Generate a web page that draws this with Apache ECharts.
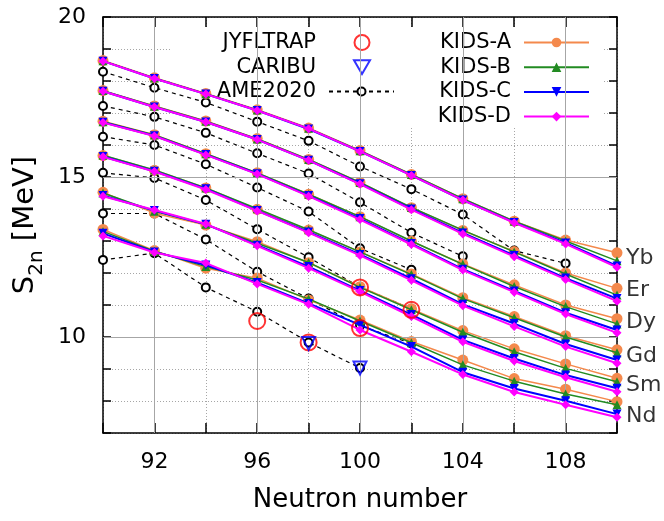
<!DOCTYPE html>
<html>
<head>
<meta charset="utf-8">
<script src="https://cdn.jsdelivr.net/npm/echarts@6/dist/echarts.min.js"></script>
<style>
html,body{margin:0;padding:0;background:#fff;}
#c{width:664px;height:521px;}
</style>
</head>
<body>
<div id="c"></div>
<script>
// Neutron numbers
const N = [90, 92, 94, 96, 98, 100, 102, 104, 106, 108, 110];
const chainNames = ['Nd', 'Sm', 'Gd', 'Dy', 'Er', 'Yb'];

// KIDS-A
const Yb_A = [18.64, 18.10, 17.61, 17.10, 16.53, 15.83, 15.08, 14.32, 13.62, 13.03, 12.63];
const Er_A = [17.70, 17.22, 16.75, 16.20, 15.55, 14.83, 14.04, 13.33, 12.67, 12.00, 11.52];
const Dy_A = [16.74, 16.32, 15.73, 15.13, 14.46, 13.76, 12.99, 12.28, 11.63, 11.00, 10.57];
const Gd_A = [15.67, 15.21, 14.66, 13.99, 13.34, 12.66, 11.97, 11.23, 10.64, 10.04, 9.60];
const Sm_A = [14.52, 13.87, 13.50, 12.98, 12.32, 11.57, 10.88, 10.20, 9.63, 9.16, 8.71];
const Nd_A = [13.36, 12.70, 12.15, 11.84, 11.16, 10.53, 9.86, 9.28, 8.70, 8.37, 7.98];
// KIDS-B
const Yb_B = [18.63, 18.09, 17.60, 17.09, 16.52, 15.82, 15.08, 14.32, 13.62, 13.00, 12.38];
const Er_B = [17.70, 17.21, 16.74, 16.19, 15.55, 14.83, 14.05, 13.34, 12.66, 11.97, 11.31];
const Dy_B = [16.73, 16.31, 15.73, 15.13, 14.46, 13.76, 13.00, 12.27, 11.58, 10.95, 10.41];
const Gd_B = [15.68, 15.22, 14.66, 14.01, 13.35, 12.66, 11.95, 11.20, 10.60, 10.00, 9.51];
const Sm_B = [14.50, 13.93, 13.52, 12.93, 12.33, 11.55, 10.85, 10.15, 9.54, 9.02, 8.60];
const Nd_B = [13.30, 12.68, 12.20, 11.78, 11.19, 10.50, 9.82, 9.13, 8.62, 8.22, 7.88];
// KIDS-C
const Yb_C = [18.62, 18.08, 17.59, 17.08, 16.50, 15.80, 15.05, 14.28, 13.58, 12.94, 12.22];
const Er_C = [17.68, 17.19, 16.72, 16.17, 15.52, 14.79, 14.00, 13.25, 12.55, 11.84, 11.20];
const Dy_C = [16.71, 16.29, 15.70, 15.10, 14.42, 13.70, 12.92, 12.12, 11.44, 10.76, 10.22];
const Gd_C = [15.64, 15.18, 14.63, 13.95, 13.28, 12.58, 11.82, 11.02, 10.42, 9.78, 9.28];
const Sm_C = [14.42, 13.95, 13.52, 12.87, 12.20, 11.45, 10.70, 9.91, 9.33, 8.81, 8.40];
const Nd_C = [13.24, 12.66, 12.25, 11.70, 11.05, 10.38, 9.70, 8.90, 8.39, 8.01, 7.59];
// KIDS-D
const Yb_D = [18.62, 18.08, 17.59, 17.08, 16.51, 15.80, 15.05, 14.28, 13.57, 12.91, 12.18];
const Er_D = [17.68, 17.19, 16.72, 16.17, 15.52, 14.78, 13.98, 13.22, 12.51, 11.80, 11.12];
const Dy_D = [16.70, 16.28, 15.69, 15.09, 14.40, 13.67, 12.89, 12.09, 11.40, 10.72, 10.13];
const Gd_D = [15.63, 15.17, 14.61, 13.94, 13.26, 12.55, 11.77, 10.98, 10.33, 9.70, 9.18];
const Sm_D = [14.40, 13.97, 13.53, 12.85, 12.15, 11.42, 10.64, 9.85, 9.25, 8.74, 8.29];
const Nd_D = [13.16, 12.64, 12.31, 11.66, 11.02, 10.22, 9.54, 8.83, 8.28, 7.88, 7.49];

// AME2020 (from N = 90 upward)
const AME_Yb = [18.29, 17.79, 17.33, 16.73, 16.13, 15.33, 14.62, 13.83, 12.70, 12.30];
const AME_Er = [17.22, 16.88, 16.38, 15.74, 15.11, 14.21, 13.26, 12.52];
const AME_Dy = [16.26, 16.00, 15.40, 14.67, 13.92, 12.77, 12.10];
const AME_Gd = [15.13, 14.97, 14.28, 13.37, 12.49, 11.56, 10.88];
const AME_Sm = [13.86, 13.86, 13.05, 12.04, 11.20, 10.35, 9.80];
const AME_Nd = [12.41, 12.62, 11.55, 10.79, 9.83, 9.03];

// Measurements
const JYFL_N = [96, 98, 100, 100, 102];
const JYFL_S = [10.50, 9.83, 11.55, 10.28, 10.85];
const CARIBU_N = [98, 100];
const CARIBU_S = [9.80, 9.03];

// Chain name labels at the right edge (S2n level of each label)
const labelNames = ['Yb', 'Er', 'Dy', 'Gd', 'Sm', 'Nd'];
const labelS = [12.45, 11.45, 10.45, 9.40, 8.48, 7.52];

// Axis ticks
const xMajor = [92, 96, 100, 104, 108];
const yMajor = [10, 15];

const FONT = 'DejaVu Sans';
const kids = {
  'KIDS-A': {arr: {Nd: Nd_A, Sm: Sm_A, Gd: Gd_A, Dy: Dy_A, Er: Er_A, Yb: Yb_A}, color: '#f4894c', symbol: 'circle', size: 11, width: 1.5, rot: 0},
  'KIDS-B': {arr: {Nd: Nd_B, Sm: Sm_B, Gd: Gd_B, Dy: Dy_B, Er: Er_B, Yb: Yb_B}, color: '#228b22', symbol: 'triangle', size: 9, width: 1.5, rot: 0},
  'KIDS-C': {arr: {Nd: Nd_C, Sm: Sm_C, Gd: Gd_C, Dy: Dy_C, Er: Er_C, Yb: Yb_C}, color: '#0000ff', symbol: 'triangle', size: 9, width: 2, rot: 180},
  'KIDS-D': {arr: {Nd: Nd_D, Sm: Sm_D, Gd: Gd_D, Dy: Dy_D, Er: Er_D, Yb: Yb_D}, color: '#ff00ff', symbol: 'diamond', size: 9, width: 2, rot: 0}
};
const ame = {Nd: AME_Nd, Sm: AME_Sm, Gd: AME_Gd, Dy: AME_Dy, Er: AME_Er, Yb: AME_Yb};

const series = [];
// helper series carrying the solid major grid lines
series.push({
  type: 'line', data: [], z: 0, silent: true,
  markLine: {
    silent: true, symbol: ['none', 'none'], label: {show: false},
    lineStyle: {color: '#a6a6a6', width: 1, type: 'solid'},
    animation: false,
    data: xMajor.map(v => ({xAxis: v})).concat(yMajor.map(v => ({yAxis: v})))
  }
});
chainNames.forEach(ch => {
  series.push({
    type: 'line', name: 'AME2020', z: 3,
    data: ame[ch].map((s, i) => [N[i], s]),
    symbol: 'emptyCircle', symbolSize: 8,
    lineStyle: {color: '#000', width: 1.2, type: [4, 4]},
    itemStyle: {color: '#000', borderWidth: 1.2},
    animation: false
  });
});
Object.keys(kids).forEach((k, ki) => {
  const m = kids[k];
  chainNames.forEach(ch => {
    series.push({
      type: 'line', name: k, z: 4 + ki,
      data: m.arr[ch].map((s, i) => [N[i], s]),
      symbol: m.symbol, symbolSize: m.size, symbolRotate: m.rot,
      lineStyle: {color: m.color, width: m.width},
      itemStyle: {color: m.color},
      animation: false
    });
  });
});
series.push({
  type: 'scatter', name: 'JYFLTRAP', z: 10,
  data: JYFL_N.map((n, i) => [n, JYFL_S[i]]),
  symbol: 'circle', symbolSize: 16,
  itemStyle: {color: 'rgba(0,0,0,0)', borderColor: '#ff0000', borderWidth: 2},
  animation: false
});
series.push({
  type: 'scatter', name: 'CARIBU', z: 11,
  data: CARIBU_N.map((n, i) => [n, CARIBU_S[i]]),
  symbol: 'triangle', symbolSize: 13, symbolRotate: 180,
  itemStyle: {color: 'rgba(0,0,0,0)', borderColor: '#0000ff', borderWidth: 2},
  animation: false
});
series.push({
  type: 'scatter', z: 12, silent: true,
  data: labelNames.map((n, i) => ({value: [110, labelS[i]], name: n})),
  symbolSize: 0,
  label: {show: true, position: 'right', distance: 9, formatter: p => p.name,
          fontFamily: FONT, fontSize: 22, color: '#000'},
  animation: false
});

const axisCommon = {
  axisLine: {show: true, lineStyle: {color: '#000', width: 1.5}},
  axisTick: {show: true, inside: true, lineStyle: {color: '#000', width: 1.5}}
};
const legendText = (pad) => ({fontFamily: FONT, fontSize: 21, color: '#000', padding: [0, pad, 0, 0]});

const option = {
  backgroundColor: '#fff',
  animation: false,
  grid: {left: 103, right: 47, top: 17, bottom: 88, containLabel: false},
  // opaque key area (hides the grid behind the key, as in the original)
  graphic: [{
    type: 'rect', z: 1, silent: true,
    shape: {x: 170, y: 28, width: 432, height: 99},
    style: {fill: '#ffffff'}
  }],
  legend: [
    {
      orient: 'vertical', align: 'right', right: 293, top: 32,
      itemWidth: 16, itemHeight: 15, itemGap: 3.7, padding: 0,
      data: ['JYFLTRAP', {name: 'CARIBU', icon: 'path://M0,0L14,0L7,12Z'}],
      textStyle: legendText(33), selectedMode: false
    },
    {
      orient: 'vertical', align: 'right', right: 269, top: 81,
      itemWidth: 65, itemHeight: 10, itemGap: 3.7, padding: 0,
      data: ['AME2020'],
      textStyle: legendText(8), selectedMode: false
    },
    {
      orient: 'vertical', align: 'right', right: 74, top: 32,
      itemWidth: 65, itemHeight: 12, itemGap: 3.7, padding: 0,
      data: ['KIDS-A', 'KIDS-B', 'KIDS-C', 'KIDS-D'],
      textStyle: legendText(8), selectedMode: false
    }
  ],
  xAxis: [
    Object.assign({}, axisCommon, {
      type: 'value', min: 90, max: 110, interval: 2, position: 'bottom',
      axisTick: {show: true, inside: true, length: 10, lineStyle: {color: '#000', width: 1.5}},
      axisLabel: {show: true, margin: 18, fontFamily: FONT, fontSize: 22, color: '#000',
                  formatter: v => (xMajor.indexOf(v) >= 0 ? String(v) : '')},
      splitLine: {show: true, lineStyle: {color: '#a6a6a6', width: 1, type: [1, 2]}},
      name: 'Neutron number', nameLocation: 'middle', nameGap: 54,
      nameTextStyle: {fontFamily: FONT, fontSize: 26, color: '#000'}
    }),
    Object.assign({}, axisCommon, {
      type: 'value', min: 90, max: 110, interval: 2, position: 'top',
      axisTick: {show: true, inside: true, length: 10, lineStyle: {color: '#000', width: 1.5}},
      axisLabel: {show: false}, splitLine: {show: false}
    })
  ],
  yAxis: [
    Object.assign({}, axisCommon, {
      type: 'value', min: 7, max: 20, interval: 1, position: 'left',
      axisTick: {show: true, inside: true, length: 8, lineStyle: {color: '#000', width: 1.5}},
      axisLabel: {show: true, margin: 17, fontFamily: FONT, fontSize: 22, color: '#000',
                  formatter: v => (v % 5 === 0 ? String(v) : '')},
      splitLine: {show: true, lineStyle: {color: '#a6a6a6', width: 1, type: [1, 2]}},
      name: '{a|S}{b|2n}{a| [MeV]}', nameLocation: 'middle', nameGap: 45, nameRotate: 90,
      nameTextStyle: {
        color: '#000',
        rich: {
          a: {fontFamily: FONT, fontSize: 29, lineHeight: 36, verticalAlign: 'top', color: '#000'},
          b: {fontFamily: FONT, fontSize: 20, lineHeight: 20, verticalAlign: 'bottom', color: '#000'}
        }
      }
    }),
    Object.assign({}, axisCommon, {
      type: 'value', min: 7, max: 20, interval: 1, position: 'right',
      axisTick: {show: true, inside: true, length: 8, lineStyle: {color: '#000', width: 1.5}},
      axisLabel: {show: false}, splitLine: {show: false}
    })
  ],
  series: series
};

const chart = echarts.init(document.getElementById('c'), null, {renderer: 'canvas'});
chart.setOption(option);
</script>
</body>
</html>
